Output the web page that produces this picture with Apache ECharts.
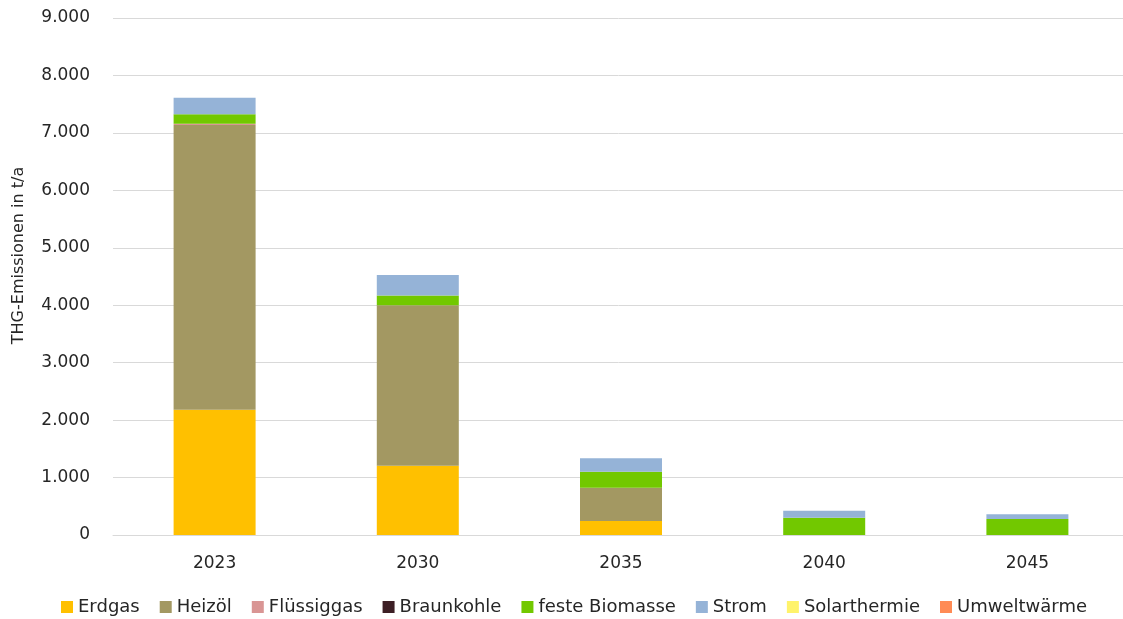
<!DOCTYPE html>
<html>
<head>
<meta charset="utf-8">
<script src="https://cdn.jsdelivr.net/npm/echarts@6/dist/echarts.min.js"></script>
<style>
html,body{margin:0;padding:0;background:#fff;}
#chart{width:1123px;height:619px;}
</style>
</head>
<body>
<div id="chart"></div>
<script>
const categories = ['2023', '2030', '2035', '2040', '2045'];
const erdgas = [2180, 1206, 244, 0, 0];
const heizoel = [4958, 2793, 579, 0, 0];
const fluessiggas = [20, 0, 0, 0, 0];
const braunkohle = [0, 0, 0, 0, 0];
const biomasse = [166, 171, 279, 301, 279];
const strom = [289, 356, 233, 122, 81];
const solarthermie = [0, 0, 0, 0, 0];
const umweltwaerme = [0, 0, 0, 0, 0];
const yTicks = [0, 1000, 2000, 3000, 4000, 5000, 6000, 7000, 8000, 9000];

const seriesDefs = [
  ['Erdgas', erdgas, '#FFC000'],
  ['Heizöl', heizoel, '#A39862'],
  ['Flüssiggas', fluessiggas, '#D99594'],
  ['Braunkohle', braunkohle, '#3D1F25'],
  ['feste Biomasse', biomasse, '#72C800'],
  ['Strom', strom, '#95B3D7'],
  ['Solarthermie', solarthermie, '#FFF36B'],
  ['Umweltwärme', umweltwaerme, '#FF8B55']
];

const font = 'DejaVu Sans';
const chart = echarts.init(document.getElementById('chart'), null, {renderer: 'canvas'});
chart.setOption({
  animation: false,
  color: seriesDefs.map(s => s[2]),
  textStyle: {fontFamily: font},
  grid: {left: 113, width: 1016, top: 18, bottom: 84, containLabel: false, outerBoundsMode: 'none'},
  legend: {
    top: 593,
    left: 56,
    itemWidth: 12,
    itemHeight: 12,
    itemGap: 20,
    icon: 'rect',
    textStyle: {fontFamily: font, fontSize: 18, color: '#262626'},
    data: seriesDefs.map(s => s[0])
  },
  xAxis: {
    type: 'category',
    data: categories,
    axisLine: {lineStyle: {color: '#D9D9D9', width: 1}},
    axisTick: {show: false},
    axisLabel: {fontFamily: font, fontSize: 17, color: '#262626', margin: 20}
  },
  yAxis: {
    type: 'value',
    min: yTicks[0],
    max: yTicks[yTicks.length - 1],
    interval: 1000,
    name: 'THG-Emissionen in t/a',
    nameLocation: 'middle',
    nameGap: 86,
    nameTextStyle: {fontFamily: font, fontSize: 16, color: '#262626', padding: [0, 0, 0, 42]},
    axisLine: {show: false},
    axisTick: {show: false},
    splitLine: {lineStyle: {color: '#D9D9D9', width: 1}},
    axisLabel: {
      fontFamily: font, fontSize: 17, color: '#262626', margin: 23,
      formatter: v => v === 0 ? '0' : v.toLocaleString('de-DE')
    }
  },
  series: seriesDefs.map(s => ({
    name: s[0],
    type: 'bar',
    stack: 'total',
    data: s[1],
    barWidth: 82,
    itemStyle: {color: s[2]}
  }))
});
</script>
</body>
</html>
